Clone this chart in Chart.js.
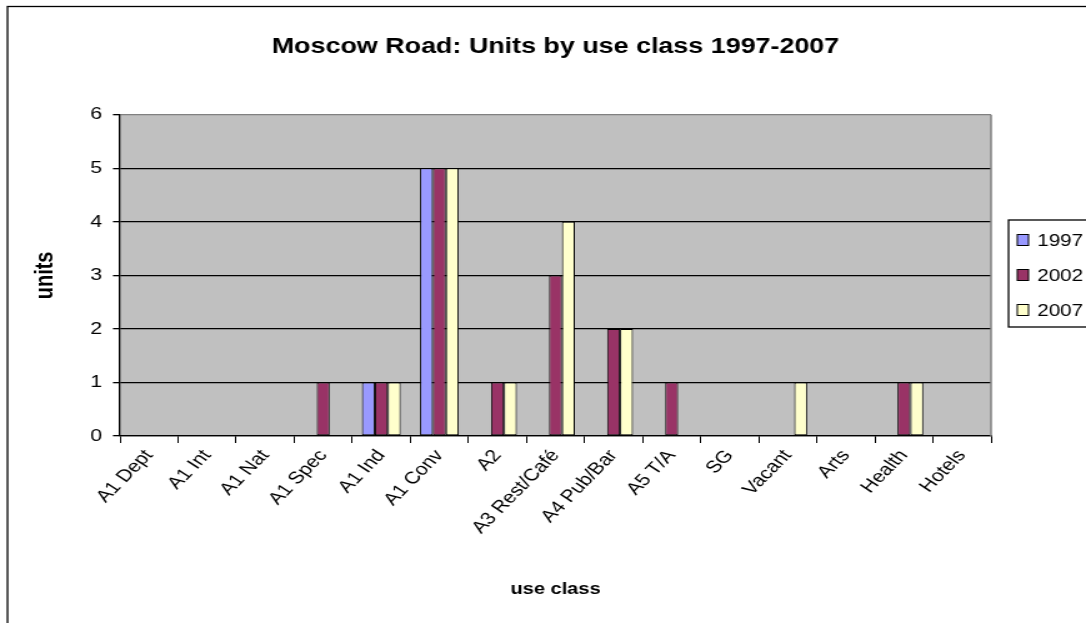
<!DOCTYPE html>
<html>
<head>
<meta charset="utf-8">
<script src="https://cdn.jsdelivr.net/npm/chart.js@4.4.1/dist/chart.umd.min.js"></script>
<style>
html, body { margin: 0; padding: 0; background: #fff; overflow: hidden; }
</style>
</head>
<body>
<!-- the reference is stretched sideways, so the canvas is drawn narrower and scaled up by css -->
<canvas id="chart" width="869" height="623" style="width:1086px;height:623px;display:block"></canvas>
<script>
// data
const categories = ["A1 Dept", "A1 Int", "A1 Nat", "A1 Spec", "A1 Ind", "A1 Conv", "A2",
  "A3 Rest/Café", "A4 Pub/Bar", "A5 T/A", "SG", "Vacant", "Arts", "Health", "Hotels"];
const seriesNames = ["1997", "2002", "2007"];
const units1997 = [0, 0, 0, 0, 1, 5, 0, 0, 0, 0, 0, 0, 0, 0, 0];
const units2002 = [0, 0, 0, 1, 1, 5, 1, 3, 2, 1, 0, 0, 0, 1, 0];
const units2007 = [0, 0, 0, 0, 1, 5, 1, 4, 2, 0, 0, 1, 0, 1, 0];
const yMin = 0, yMax = 6, yStep = 1;

const FONT = '"Liberation Sans", Arial, Helvetica, sans-serif';
const STRETCH = 1086 / 869;
// labels look 45 deg after the css stretch
const LABEL_ANGLE = Math.atan(STRETCH) * 180 / Math.PI;
Chart.defaults.font.family = FONT;
Chart.defaults.color = "#000";

// white page, outer frame and grey plot area
const frame = {
  id: "frame",
  beforeDraw(chart) {
    const c = chart.ctx, a = chart.chartArea;
    c.save();
    c.fillStyle = "#fff";
    c.fillRect(0, 0, chart.width, chart.height);
    c.strokeStyle = "#000";
    c.lineWidth = 1.3;
    c.strokeRect(6, 6.5, chart.width + 20, chart.height + 20);
    c.fillStyle = "#c0c0c0";
    c.fillRect(a.left, a.top, a.right - a.left, a.bottom - a.top);
    c.restore();
  },
  beforeDatasetsDraw(chart) {
    const c = chart.ctx, a = chart.chartArea;
    c.save();
    c.strokeStyle = "#808080";
    c.lineWidth = 1.5;
    c.beginPath();
    c.moveTo(a.right, a.top);
    c.lineTo(a.right, a.bottom);
    c.stroke();
    c.restore();
  }
};

// excel style boxed legend to the right of the plot
const boxLegend = {
  id: "boxLegend",
  afterDraw(chart, args, opts) {
    const c = chart.ctx;
    c.save();
    c.strokeStyle = "#000";
    c.lineWidth = 1.3;
    c.strokeRect(opts.left, opts.top, chart.width, opts.height);
    c.font = "16.5px " + FONT;
    c.textBaseline = "middle";
    chart.data.datasets.forEach((ds, i) => {
      const y = opts.top + opts.first + i * opts.gap;
      c.fillStyle = ds.backgroundColor;
      c.fillRect(opts.left + 7, y - 5.5, 9, 11);
      c.lineWidth = 1;
      c.strokeRect(opts.left + 7, y - 5.5, 9, 11);
      c.fillStyle = "#000";
      c.fillText(ds.label, opts.left + 23, y + 1);
    });
    c.restore();
  }
};

function bar(label, data, color) {
  return {
    label: label,
    data: data,
    backgroundColor: color,
    borderColor: "#000",
    borderWidth: ctx => (ctx.raw ? 1 : 0),
    borderSkipped: false,
    categoryPercentage: 0.667,
    barPercentage: 1.0
  };
}

new Chart(document.getElementById("chart"), {
  type: "bar",
  data: {
    labels: categories,
    datasets: [
      bar(seriesNames[0], units1997, "#9999ff"),
      bar(seriesNames[1], units2002, "#993366"),
      bar(seriesNames[2], units2007, "#ffffcc")
    ]
  },
  plugins: [frame, boxLegend],
  options: {
    responsive: false,
    animation: false,
    devicePixelRatio: 1,
    layout: { padding: { left: 0, right: 76, top: 0, bottom: 0 } },
    plugins: {
      legend: { display: false },
      tooltip: { enabled: false },
      title: {
        display: true,
        text: "Moscow Road: Units by use class 1997-2007",
        fullSize: false,
        color: "#000",
        font: { size: 21.5, weight: "bold" },
        padding: { top: 34, bottom: 55 }
      },
      boxLegend: { left: 807, top: 220, height: 107, first: 20, gap: 35 }
    },
    scales: {
      x: {
        grid: {
          display: true,
          drawOnChartArea: false,
          drawTicks: true,
          tickLength: 7,
          color: "#000",
          offset: true
        },
        border: { display: true, color: "#000", width: 1.3 },
        ticks: {
          autoSkip: false,
          minRotation: LABEL_ANGLE,
          maxRotation: LABEL_ANGLE,
          padding: 3,
          font: { size: 17 }
        },
        title: {
          display: true,
          text: "use class",
          font: { size: 16, weight: "bold" },
          padding: { top: 0, bottom: 23.4 }
        },
        afterFit(scale) { scale.height = 187; }
      },
      y: {
        min: yMin,
        max: yMax,
        grid: {
          color: ctx => (ctx.tick && ctx.tick.value === yMax ? "#808080" : "#000"),
          tickColor: "#000",
          lineWidth: 1.3,
          drawTicks: true,
          tickLength: 5.6
        },
        border: { display: true, color: "#000", width: 1.3 },
        ticks: { stepSize: yStep, padding: 8.8, font: { size: 17 } },
        title: {
          display: true,
          text: "units",
          font: { size: 20, weight: "bold" },
          padding: { top: 24, bottom: 0 }
        },
        afterFit(scale) { scale.width = 96; }
      }
    }
  }
});
</script>
</body>
</html>
